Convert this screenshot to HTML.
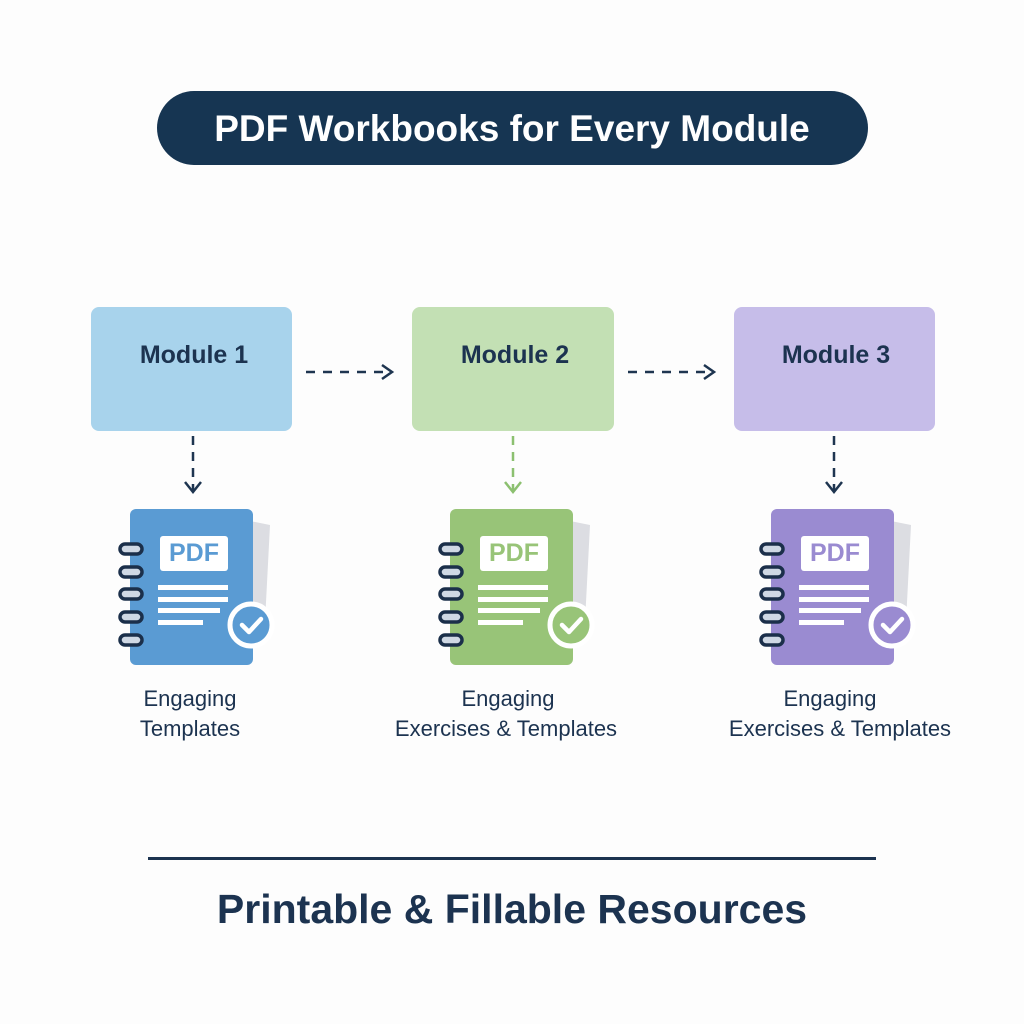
<!DOCTYPE html>
<html><head><style>
body{margin:0;background:#fdfdfd;}
svg{display:block;font-family:"Liberation Sans","DejaVu Sans",sans-serif;}
</style></head><body>
<svg width="1024" height="1024" viewBox="0 0 1024 1024">
<defs>
<g id="nb">
  <polygon points="120,12 140,16 134,132 120,132" fill="#dcdde2"/>
  <rect x="0" y="0" width="123" height="156" rx="6" fill="currentColor"/>
  <rect x="30" y="27" width="68" height="35" rx="3" fill="#fff"/>
  <g fill="#fff">
    <rect x="28" y="76" width="70" height="5"/>
    <rect x="28" y="88" width="70" height="5"/>
    <rect x="28" y="99" width="62" height="5"/>
    <rect x="28" y="111" width="45" height="5"/>
  </g>
  <g fill="#cfd8e4" stroke="#1b2f4a" stroke-width="3.5">
    <rect x="-10" y="35" width="22" height="10" rx="5"/>
    <rect x="-10" y="58" width="22" height="10" rx="5"/>
    <rect x="-10" y="80" width="22" height="10" rx="5"/>
    <rect x="-10" y="103" width="22" height="10" rx="5"/>
    <rect x="-10" y="126" width="22" height="10" rx="5"/>
  </g>
  <circle cx="121" cy="116" r="21" fill="currentColor" stroke="#fff" stroke-width="5"/>
  <polyline points="112,116 119,123 131,110" fill="none" stroke="#fff" stroke-width="4.5" stroke-linecap="round" stroke-linejoin="round"/>
</g>
</defs>

<rect x="157" y="91" width="711" height="74" rx="37" fill="#163552"/>
<text x="512" y="141" text-anchor="middle" font-size="37" font-weight="bold" fill="#fff">PDF Workbooks for Every Module</text>

<rect x="91" y="307" width="201" height="124" rx="8" fill="#a8d3ec"/>
<rect x="412" y="307" width="202" height="124" rx="8" fill="#c3e0b4"/>
<rect x="734" y="307" width="201" height="124" rx="8" fill="#c6bde9"/>
<g font-size="25" font-weight="bold" fill="#1c3350" text-anchor="middle">
<text x="194" y="363">Module 1</text>
<text x="515" y="363">Module 2</text>
<text x="836" y="363">Module 3</text>
</g>

<g stroke="#1e3550" stroke-width="2.5" fill="none">
<line x1="306" y1="372" x2="390" y2="372" stroke-dasharray="9,8"/>
<polyline points="382,365 392,372 382,379"/>
<line x1="628" y1="372" x2="712" y2="372" stroke-dasharray="9,8"/>
<polyline points="704,365 714,372 704,379"/>
<line x1="193" y1="436" x2="193" y2="490" stroke-dasharray="9,7"/>
<polyline points="185,482 193,492 201,482"/>
<line x1="834" y1="436" x2="834" y2="490" stroke-dasharray="9,7"/>
<polyline points="826,482 834,492 842,482"/>
</g>
<g stroke="#8cc070" stroke-width="2.5" fill="none">
<line x1="513" y1="436" x2="513" y2="490" stroke-dasharray="9,7"/>
<polyline points="505,482 513,492 521,482"/>
</g>

<use href="#nb" x="130" y="509" style="color:#5a9bd3"/>
<use href="#nb" x="450" y="509" style="color:#98c478"/>
<use href="#nb" x="771" y="509" style="color:#9a8bd1"/>
<g font-size="25" font-weight="bold" text-anchor="middle">
<text x="194" y="561" fill="#5a9bd3">PDF</text>
<text x="514" y="561" fill="#98c478">PDF</text>
<text x="835" y="561" fill="#9a8bd1">PDF</text>
</g>

<g font-size="22" fill="#1c3350" text-anchor="middle">
<text x="190" y="706">Engaging</text>
<text x="190" y="736">Templates</text>
<text x="508" y="706">Engaging</text>
<text x="506" y="736">Exercises &amp; Templates</text>
<text x="830" y="706">Engaging</text>
<text x="840" y="736">Exercises &amp; Templates</text>
</g>

<rect x="148" y="857" width="728" height="3" fill="#1c3350"/>
<text x="512" y="923" text-anchor="middle" font-size="41" font-weight="bold" fill="#1c3350">Printable &amp; Fillable Resources</text>
</svg>
</body></html>
